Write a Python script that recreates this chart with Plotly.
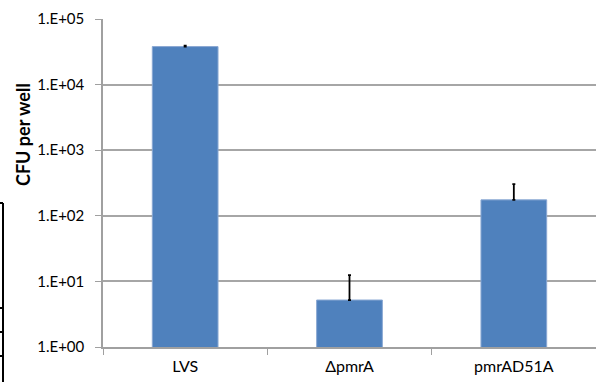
import plotly.graph_objects as go

# Strains and colony counts (CFU per well)
strains = ["LVS", "ΔpmrA", "pmrAD51A"]
cfu = [38000, 5.2, 175]
cfu_err = [1200, 7.3, 130]

tick_vals = [1, 10, 100, 1000, 10000, 100000]
tick_text = ["1.E+00", "1.E+01", "1.E+02", "1.E+03", "1.E+04", "1.E+05"]

FONT = "Lato, Calibri, Carlito, sans-serif"
W, H = 596, 382
L, R, T, B = 103, 0, 19, 35
pw, ph = W - L - R, H - T - B


def px(x):
    return (x - L) / pw


def py(y):
    return (H - B - y) / ph


fig = go.Figure(
    go.Bar(
        x=strains,
        y=cfu,
        width=0.4,
        marker=dict(color="#4F81BD", line=dict(color="#8AA8D3", width=1)),
        error_y=dict(
            type="data",
            array=cfu_err,
            arrayminus=[0, 0, 0],
            symmetric=False,
            color="black",
            thickness=1.8,
            width=1.5,
        ),
    )
)

fig.update_xaxes(
    type="category",
    tickson="boundaries",
    ticks="outside",
    ticklen=6,
    tickcolor="#A0A0A0",
    showline=True,
    linecolor="#A0A0A0",
    linewidth=1.5,
    showgrid=False,
    tickfont=dict(family=FONT, size=16, color="black"),
    ticklabelstandoff=4,
)

fig.update_yaxes(
    type="log",
    range=[0, 5],
    tickvals=tick_vals,
    ticktext=tick_text,
    ticks="outside",
    ticklen=6,
    tickcolor="#A0A0A0",
    showline=True,
    linecolor="#A0A0A0",
    linewidth=1.5,
    showgrid=True,
    gridcolor="#A6A6A6",
    gridwidth=1.5,
    zeroline=False,
    tickfont=dict(family=FONT, size=15, color="black"),
    ticklabelstandoff=8,
)

# Vertical axis title
fig.add_annotation(
    text="<b>CFU per well</b>",
    textangle=-90,
    xref="paper",
    yref="paper",
    x=px(23),
    y=py(135),
    xanchor="center",
    yanchor="middle",
    showarrow=False,
    font=dict(family=FONT, size=18, color="black"),
)

# Border fragment on the left edge
edge = dict(type="line", xref="paper", yref="paper",
            line=dict(color="black", width=2))
fig.add_shape(**edge, x0=px(3), x1=px(3), y0=py(203), y1=py(382))
for yy in [203, 308, 332, 356]:
    fig.add_shape(**edge, x0=px(0), x1=px(3), y0=py(yy), y1=py(yy))

fig.update_layout(
    width=W,
    height=H,
    margin=dict(l=L, r=R, t=T, b=B),
    paper_bgcolor="white",
    plot_bgcolor="white",
    showlegend=False,
    bargap=0.6,
)

fig.write_html("out.html")
